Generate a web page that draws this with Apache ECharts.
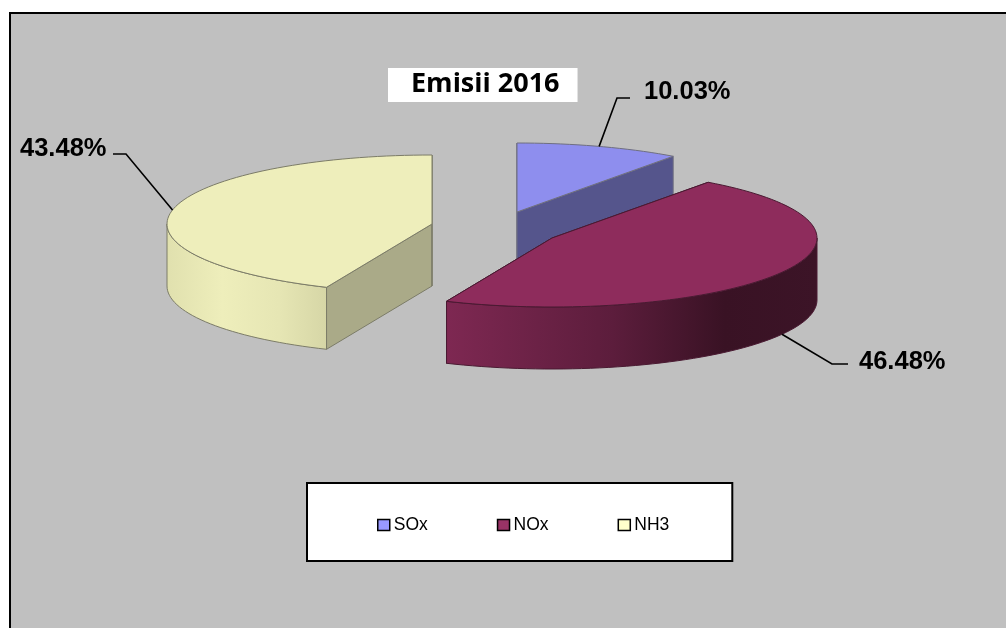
<!DOCTYPE html>
<html>
<head>
<meta charset="utf-8">
<style>
  html, body { margin: 0; padding: 0; background: #fff; }
  #chart { width: 1006px; height: 628px; }
</style>
<script src="https://cdn.jsdelivr.net/npm/echarts@6/dist/echarts.min.js"></script>
</head>
<body>
<div id="chart"></div>
<script>
// data
const categories = ['SOx', 'NOx', 'NH3']
const shares = [10.03, 46.48, 43.48]
const titleText = 'Emisii 2016'

// colours per slice
const topColors = ['#8e8eee', '#8e2c5c', '#eeeebb']
const swatchColors = ['#9999ff', '#993366', '#ffffcc']
const sideColors = ['#55558c', '#3a1226', '#aaaa88']
const strokeColors = ['#6f6f80', '#4a1a32', '#7c7c68']
const wallStops = [
  [[0, '#7c7c9c'], [1, '#55558c']],
  [[0, '#7e2852'], [0.45, '#5c1d3c'], [0.75, '#391224'], [1, '#3c1427']],
  [[0, '#e0e0ae'], [0.35, '#eeeebb'], [0.7, '#e6e6b4'], [1, '#d6d6a6']]
]

// layout: tilted pie, each slice pulled out to its own centre
const radiusX = 265
const radiusY = 69
const depth = 62
const sliceCenters = [[517, 212], [552, 238], [432, 224]]
const labelElbows = [[617, 98], [832, 364], [126, 154]]
const labelEnds = [[630, 98], [848, 364], [113, 154]]
const labelPos = [[644, 90], [859, 360], [20, 147]]
const total = shares.reduce((a, b) => a + b, 0)

function rim(c, deg, dy) {
  const r = deg * Math.PI / 180
  return [c[0] + radiusX * Math.sin(r), c[1] - radiusY * Math.cos(r) + (dy || 0)]
}

function arcPoints(c, from, to, dy) {
  const pts = []
  const n = Math.max(2, Math.ceil(Math.abs(to - from) / 2))
  for (let k = 0; k <= n; k++) {
    pts.push(rim(c, from + (to - from) * k / n, dy))
  }
  return pts
}

function renderSlice(params, api) {
  const i = params.seriesIndex
  const before = shares.slice(0, i).reduce((a, b) => a + b, 0)
  const start = before / total * 360
  const end = start + api.value(0) / total * 360
  const mid = (start + end) / 2
  const c = sliceCenters[i]
  const stroke = { stroke: strokeColors[i], lineWidth: 1 }
  const children = []

  // straight cut faces
  ;[start, end].forEach(function (deg) {
    const p = rim(c, deg)
    children.push({
      type: 'polygon',
      shape: { points: [c, p, [p[0], p[1] + depth], [c[0], c[1] + depth]] },
      style: Object.assign({ fill: sideColors[i] }, stroke)
    })
  })

  // curved front wall, only the part turned to the viewer
  const wallFrom = Math.max(start, 90)
  const wallTo = Math.min(end, 270)
  if (wallTo > wallFrom) {
    const top = arcPoints(c, wallFrom, wallTo)
    const bottom = arcPoints(c, wallTo, wallFrom, depth)
    const fill = new echarts.graphic.LinearGradient(0, 0, 1, 0,
      wallStops[i].map(s => ({ offset: s[0], color: s[1] })))
    children.push({
      type: 'polygon',
      shape: { points: top.concat(bottom) },
      style: Object.assign({ fill: fill }, stroke)
    })
  }

  // top face
  children.push({
    type: 'polygon',
    shape: { points: [c].concat(arcPoints(c, start, end)) },
    style: Object.assign({ fill: topColors[i] }, stroke)
  })

  // leader line and value label
  const front = mid > 90 && mid < 270
  children.push({
    type: 'polyline',
    shape: { points: [rim(c, mid, front ? depth : 0), labelElbows[i], labelEnds[i]] },
    style: { fill: null, stroke: '#000', lineWidth: 1.6 }
  })
  children.push({
    type: 'text',
    style: {
      x: labelPos[i][0],
      y: labelPos[i][1] + 2,
      text: api.value(0).toFixed(2) + '%',
      fill: '#000',
      font: 'bold 25.5px "Liberation Sans"',
      textVerticalAlign: 'middle'
    }
  })
  return { type: 'group', children: children }
}

const chart = echarts.init(document.getElementById('chart'), null, { renderer: 'canvas' })

chart.setOption({
  animation: false,
  backgroundColor: '#fff',
  title: {
    text: titleText,
    left: 388,
    top: 68,
    padding: [0, 18, 2, 23],
    backgroundColor: '#fff',
    textStyle: {
      fontFamily: 'Open Sans',
      fontWeight: 'bold',
      fontSize: 27,
      lineHeight: 32,
      color: '#000'
    }
  },
  legend: {
    left: 307,
    top: 483,
    orient: 'horizontal',
    selectedMode: false,
    backgroundColor: '#fff',
    borderColor: '#000',
    borderWidth: 2,
    padding: [33, 63, 27, 70],
    itemWidth: 12,
    itemHeight: 11,
    itemGap: 69,
    textStyle: { fontFamily: 'Liberation Sans', fontSize: 17.5, color: '#000', padding: [0, 0, 0, -1] },
    data: categories.map((name, i) => ({
      name: name,
      icon: 'rect',
      itemStyle: { color: swatchColors[i], borderColor: '#000', borderWidth: 1.5 }
    }))
  },
  graphic: [{
    type: 'rect',
    silent: true,
    z: -1,
    shape: { x: 10, y: 13, width: 1010, height: 630 },
    style: { fill: '#c0c0c0', stroke: '#000', lineWidth: 2 }
  }],
  series: categories.map((name, i) => ({
    type: 'custom',
    name: name,
    coordinateSystem: 'none',
    silent: true,
    z: name === 'NOx' ? 3 : 2,
    renderItem: renderSlice,
    data: [shares[i]]
  }))
})
</script>
</body>
</html>
